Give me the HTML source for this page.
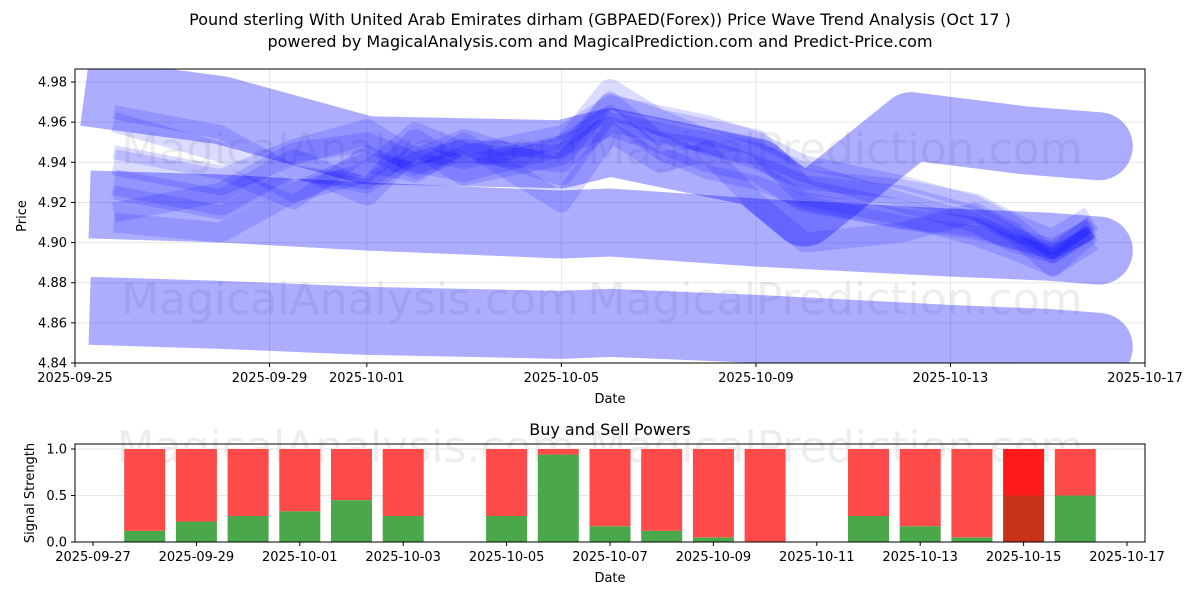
<!DOCTYPE html>
<html><head><meta charset="utf-8"><style>
body{margin:0;background:#fff;font-family:"Liberation Sans","DejaVu Sans",sans-serif}
svg text{font-family:"DejaVu Sans","Liberation Sans",sans-serif}
</style></head><body>
<svg id="chart" width="1200" height="600" xmlns="http://www.w3.org/2000/svg">
<text x="600" y="25" font-size="16" text-anchor="middle">Pound sterling With United Arab Emirates dirham (GBPAED(Forex)) Price Wave Trend Analysis (Oct 17 )</text>
<text x="600" y="47" font-size="16" text-anchor="middle">powered by MagicalAnalysis.com and MagicalPrediction.com and Predict-Price.com</text>
<g id="topPanel"></g>
<g id="botPanel"></g>
</svg>
<script>
const bandDays=[0.3,3,6,10,11,14,18,20,21.05];
const bandBottom=[4.866,4.864,4.861,4.859,4.860,4.857,4.852,4.850,4.848];
const bandMid=[4.919,4.917,4.913,4.909,4.910,4.905,4.900,4.898,4.896];
const bandTopDays=[0.2,3,6,10,11,14,15,17.2,19.5,21.05];
const bandTop=[4.975,4.966,4.946,4.944,4.950,4.935,4.915,4.958,4.951,4.948];
const waveDays=[0.8,3,4.5,6,7,8,10,11,12,13,14,15,17,18.5,19.3,20.1,20.9];
const waves=[
[4.965,4.955,4.935,4.928,4.942,4.948,4.945,4.972,4.952,4.948,4.940,4.930,4.925,4.915,4.905,4.893,4.905],
[4.960,4.945,4.925,4.935,4.955,4.945,4.940,4.960,4.955,4.950,4.945,4.935,4.920,4.910,4.900,4.895,4.908],
[4.940,4.930,4.945,4.955,4.940,4.950,4.935,4.968,4.960,4.955,4.950,4.925,4.915,4.905,4.898,4.890,4.902],
[4.925,4.915,4.935,4.930,4.945,4.940,4.950,4.965,4.945,4.935,4.930,4.920,4.910,4.905,4.900,4.895,4.910],
[4.910,4.905,4.925,4.940,4.935,4.950,4.920,4.955,4.940,4.945,4.920,4.900,4.905,4.915,4.905,4.888,4.905],
[4.930,4.920,4.940,4.925,4.950,4.935,4.945,4.975,4.960,4.950,4.945,4.930,4.925,4.918,4.908,4.900,4.912],
[4.945,4.935,4.920,4.945,4.935,4.945,4.955,4.970,4.965,4.960,4.952,4.940,4.930,4.920,4.910,4.895,4.905],
[4.915,4.925,4.945,4.950,4.940,4.935,4.948,4.958,4.950,4.940,4.935,4.920,4.912,4.908,4.902,4.897,4.907]];
const yTicks=[4.84,4.86,4.88,4.90,4.92,4.94,4.96,4.98];
const xTicks=["2025-09-25","2025-09-29","2025-10-01","2025-10-05","2025-10-09","2025-10-13","2025-10-17"];
const xTickDays=[0,4,6,10,14,18,22];
const barDays=[1,2,3,4,5,6,8,9,10,11,12,13,15,16,17,18,19];
const buyVals=[0.12,0.22,0.28,0.33,0.45,0.28,0.28,0.94,0.17,0.12,0.05,0,0.28,0.17,0.05,0.5,0.5];
const sellVals=[0.88,0.78,0.72,0.67,0.55,0.72,0.72,0.06,0.83,0.88,0.95,1,0.72,0.83,0.95,0.5,0.5];
const darkBar=[0,0,0,0,0,0,0,0,0,0,0,0,0,0,0,1,0];
const bTicks=[0,0.5,1.0];
const bxTicks=["2025-09-27","2025-09-29","2025-10-01","2025-10-03","2025-10-05","2025-10-07","2025-10-09","2025-10-11","2025-10-13","2025-10-15","2025-10-17"];
const bxTickDays=[0,2,4,6,8,10,12,14,16,18,20];

const NS="http://www.w3.org/2000/svg";
function mk(tag,attrs,parent){const e=document.createElementNS(NS,tag);for(const k in attrs)e.setAttribute(k,attrs[k]);parent.appendChild(e);return e;}
const X=d=>75+d*1070/22, Y=v=>363-(v-4.84)*2007;
const pg=document.getElementById('topPanel'), bot=document.getElementById('botPanel');
yTicks.forEach(v=>{const l=mk('line',{x1:75,x2:1145,y1:Y(v),y2:Y(v),stroke:'#e6e6e6'},pg);});
xTickDays.forEach(d=>{const l=mk('line',{x1:X(d),x2:X(d),y1:69,y2:363,stroke:'#e6e6e6'},pg);});
[[350,150],[835,150],[350,300],[835,300]].forEach((p,i)=>{const t=mk('text',{x:p[0],y:p[1]+14,'font-size':44,'text-anchor':'middle',fill:'#000','fill-opacity':0.07},pg);t.textContent=i%2?'MagicalPrediction.com':'MagicalAnalysis.com';});
const clip=mk('clipPath',{id:'c1'},pg);mk('rect',{x:75,y:69,width:1070,height:294},clip);
const g=mk('g',{'clip-path':'url(#c1)'},pg);
function band(days,vals,w,op,name,roundEnd){
  const gg=mk('g',{opacity:op},g);
  const p=mk('polyline',{points:days.map((d,i)=>X(d)+','+Y(vals[i])).join(' '),fill:'none',stroke:'#0000ff','stroke-width':w,'stroke-linejoin':'round','stroke-linecap':'butt'},gg);
  
  if(roundEnd){const n=days.length-1;const c=mk('circle',{cx:X(days[n]),cy:Y(vals[n]),r:w/2,fill:'#0000ff'},gg);}
}
band(bandDays,bandBottom,68,0.32,'lower-band',true);
band(bandDays,bandMid,68,0.32,'middle-band',true);
band(bandTopDays,bandTop,68,0.32,'upper-band',true);
waves.forEach((w,i)=>band(waveDays,w,14+(i%3)*6,0.14,'wave-line',false));
mk('rect',{x:75,y:69,width:1070,height:294,fill:'none',stroke:'#000','stroke-width':1},pg);
yTicks.forEach(v=>{mk('line',{x1:71,x2:75,y1:Y(v),y2:Y(v),stroke:'#000'},pg);const t=mk('text',{x:67,y:Y(v)+4.5,'font-size':13,'text-anchor':'end'},pg);t.textContent=v.toFixed(2);});
xTickDays.forEach((d,i)=>{mk('line',{x1:X(d),x2:X(d),y1:363,y2:367,stroke:'#000'},pg);const t=mk('text',{x:X(d),y:382,'font-size':13,'text-anchor':'middle'},pg);t.textContent=xTicks[i];});
let tx=mk('text',{x:610,y:403,'font-size':13,'text-anchor':'middle'},pg);tx.textContent='Date';
tx=mk('text',{x:26,y:216,'font-size':13,'text-anchor':'middle',transform:'rotate(-90 26 216)'},pg);tx.textContent='Price';

const BX=d=>93+d*1034/20, BY=v=>542-v*93;
tx=mk('text',{x:610,y:435,'font-size':16,'text-anchor':'middle'},bot);tx.textContent='Buy and Sell Powers';
tx=mk('text',{x:600,y:462,'font-size':44,'text-anchor':'middle',fill:'#000','fill-opacity':0.07},bot);tx.textContent='MagicalAnalysis.com   MagicalPrediction.com';
bTicks.forEach(v=>{const l=mk('line',{x1:75,x2:1145,y1:BY(v),y2:BY(v),stroke:'#e6e6e6'},bot);});
barDays.forEach((d,i)=>{const x=BX(d)-20.5;const dark=darkBar[i]===1;
 const b=mk('rect',{x:x,y:BY(buyVals[i]),width:41,height:buyVals[i]*93,fill:dark?'#c83218':'#4aa84a'},bot);
 const s=mk('rect',{x:x,y:BY(buyVals[i]+sellVals[i]),width:41,height:sellVals[i]*93,fill:dark?'#ff1a1a':'#ff4a4a'},bot);});
mk('rect',{x:75,y:444,width:1070,height:98,fill:'none',stroke:'#000'},bot);
bTicks.forEach(v=>{mk('line',{x1:71,x2:75,y1:BY(v),y2:BY(v),stroke:'#000'},bot);const t=mk('text',{x:67,y:BY(v)+4.5,'font-size':13,'text-anchor':'end'},bot);t.textContent=v.toFixed(1);});
bxTickDays.forEach((d,i)=>{mk('line',{x1:BX(d),x2:BX(d),y1:542,y2:546,stroke:'#000'},bot);const t=mk('text',{x:BX(d),y:561,'font-size':13,'text-anchor':'middle'},bot);t.textContent=bxTicks[i];});
tx=mk('text',{x:610,y:582,'font-size':13,'text-anchor':'middle'},bot);tx.textContent='Date';
tx=mk('text',{x:34,y:493,'font-size':13,'text-anchor':'middle',transform:'rotate(-90 34 493)'},bot);tx.textContent='Signal Strength';
</script>
</body></html>
